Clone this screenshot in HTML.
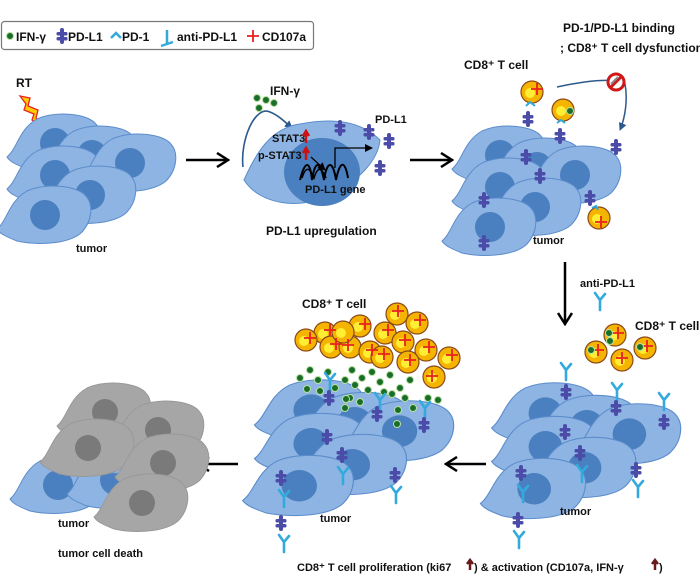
<!DOCTYPE html>
<html><head><meta charset="utf-8"><style>
body{margin:0;background:#fff}
svg{display:block}
text{font-family:"Liberation Sans",sans-serif;font-weight:bold;fill:#111}
</style></head><body>
<svg width="700" height="582" viewBox="0 0 700 582" xmlns="http://www.w3.org/2000/svg">
<defs>
<g id="cell">
<path d="M-48,14 C-38,6 -36,-14 -18,-24 C0,-32 30,-30 40,-20 C50,-10 46,8 36,18 C22,30 -10,30 -28,26 C-38,22 -45,19 -48,14Z" fill="#8eb4e3" stroke="#5b8ccc" stroke-width="1"/>
<circle cx="0" cy="0" r="15" fill="#4a7fc0"/>
</g>
<g id="gcell">
<path d="M-48,14 C-38,6 -36,-14 -18,-24 C0,-32 30,-30 40,-20 C50,-10 46,8 36,18 C22,30 -10,30 -28,26 C-38,22 -45,19 -48,14Z" fill="#a6a6a6" stroke="#999" stroke-width="1"/>
<circle cx="0" cy="0" r="13" fill="#7a7a7a"/>
</g>
<g id="clu">
<use href="#cell" x="45" y="43"/>
<use href="#cell" x="82" y="55"/>
<use href="#cell" x="45" y="75"/>
<use href="#cell" x="120" y="63"/>
<use href="#cell" x="80" y="95"/>
<use href="#cell" x="35" y="115"/>
</g>
<g id="pdl1">
<rect x="-2" y="-8" width="4" height="16" rx="2" fill="#4b4ba8"/>
<rect x="-5.5" y="-4" width="11" height="3.5" rx="1.5" fill="#4b4ba8"/>
<rect x="-5.5" y="1" width="11" height="3.5" rx="1.5" fill="#4b4ba8"/>
</g>
<g id="ab">
<path d="M0,10 L0,0 M0,0 L-5,-7 M0,0 L5,-6" stroke="#33aadd" stroke-width="2.6" fill="none" stroke-linecap="round"/>
</g>
<g id="tc">
<circle r="11" fill="#f4b400" stroke="#8a4a1a" stroke-width="1.2"/>
<circle cx="-2" cy="1" r="5" fill="#ffee33"/>
</g>
<g id="cd"><path d="M0,-6 L0,6 M-6,0 L6,0" stroke="#e82020" stroke-width="1.8"/></g>
<g id="ifn"><circle r="3.5" fill="#1b6e2a" stroke="#b8e0a0" stroke-width="1"/></g>
<marker id="ah" markerUnits="userSpaceOnUse" markerWidth="14" markerHeight="16" refX="12" refY="8" orient="auto"><path d="M1,1 L12,8 L1,15" fill="none" stroke="#000" stroke-width="2.5"/></marker>
<marker id="ahs" markerUnits="userSpaceOnUse" markerWidth="8" markerHeight="8" refX="7" refY="4" orient="auto"><path d="M0,0 L8,4 L0,8Z" fill="#000"/></marker>
<marker id="ahb" markerUnits="userSpaceOnUse" markerWidth="8" markerHeight="8" refX="7" refY="4" orient="auto"><path d="M0,0 L8,4 L0,8Z" fill="#2c5a8c"/></marker>
</defs>

<!-- legend -->
<rect x="1.5" y="21.5" width="312" height="28" rx="3" fill="#fff" stroke="#777" stroke-width="1.2"/>
<use href="#ifn" x="10" y="36"/>
<text x="16" y="41" font-size="12">IFN-γ</text>
<use href="#pdl1" x="62" y="36"/>
<text x="68" y="41" font-size="12">PD-L1</text>
<path d="M111,38 L116,33 L121,38" stroke="#33aadd" stroke-width="2.5" fill="none"/>
<text x="122" y="41" font-size="12">PD-1</text>
<path d="M167,44 L167,30 M167,44 L161,46 M167,44 L173,42" stroke="#33aadd" stroke-width="2.5" fill="none"/>
<text x="177" y="41" font-size="12">anti-PD-L1</text>
<use href="#cd" x="253" y="36"/>
<text x="262" y="41" font-size="12">CD107a</text>

<!-- panel 1 -->
<text x="16" y="87" font-size="12">RT</text>
<path d="M20,96 L30,98 L28,106 L38,110 L36,118 L48,132 L32,120 L34,114 L24,110 L26,104Z" fill="#ffcc00" stroke="#e82020" stroke-width="1.3"/>
<use href="#clu" x="10" y="100"/>
<text x="76" y="252" font-size="11">tumor</text>
<path d="M186,160 L228,160" stroke="#000" stroke-width="2.5" marker-end="url(#ah)"/>

<!-- panel 2 -->
<text x="270" y="95" font-size="12">IFN-γ</text>
<use href="#ifn" x="257" y="98"/><use href="#ifn" x="266" y="100"/><use href="#ifn" x="274" y="103"/><use href="#ifn" x="259" y="108"/>
<path d="M243,167 C240,140 255,105 270,112 C278,115 285,122 292,128" stroke="#2c5a8c" stroke-width="1.6" fill="none" marker-end="url(#ahb)"/>
<path d="M244,180 C255,155 270,128 300,124 C330,118 360,120 380,140 C378,160 360,180 330,195 C300,210 260,205 244,180Z" fill="#8eb4e3" stroke="#5b8ccc"/>
<ellipse cx="322" cy="172" rx="38" ry="34" fill="#4a7fc0"/>
<text x="272" y="142" font-size="11">STAT3</text>
<text x="258" y="159" font-size="11">p-STAT3</text>
<path d="M306,133 L306,143 M303,136 L306,131 L309,136" stroke="#cc1111" stroke-width="2.5" fill="none"/>
<path d="M306,150 L306,160 M303,153 L306,148 L309,153" stroke="#cc1111" stroke-width="2.5" fill="none"/>
<path d="M311,157 L325,170" stroke="#000" stroke-width="1.2" marker-end="url(#ahs)"/>
<path d="M300,180 C305,160 310,160 312,180 C315,160 320,160 324,180 C327,160 333,160 336,180 C340,160 345,160 348,178" stroke="#000" stroke-width="2" fill="none"/>
<path d="M302,178 C306,165 310,168 314,178 C318,165 322,168 326,178" stroke="#000" stroke-width="1.5" fill="none"/>
<text x="305" y="193" font-size="11">PD-L1 gene</text>
<path d="M335,168 L335,148 L372,148" stroke="#000" stroke-width="1.3" fill="none" marker-end="url(#ahs)"/>
<text x="375" y="123" font-size="11">PD-L1</text>
<use href="#pdl1" x="340" y="128"/><use href="#pdl1" x="369" y="132"/><use href="#pdl1" x="389" y="141"/><use href="#pdl1" x="380" y="168"/>
<text x="266" y="235" font-size="12">PD-L1 upregulation</text>
<path d="M410,160 L452,160" stroke="#000" stroke-width="2.5" marker-end="url(#ah)"/>

<!-- panel 3 -->
<text x="563" y="32" font-size="12">PD-1/PD-L1 binding</text>
<text x="560" y="52" font-size="12">; CD8⁺ T cell dysfunction</text>
<text x="464" y="69" font-size="12">CD8⁺ T cell</text>
<use href="#clu" x="455" y="112"/>
<use href="#tc" x="532" y="92"/><use href="#cd" x="537" y="89"/>
<use href="#tc" x="563" y="110"/><use href="#ifn" x="570" y="111"/>
<use href="#tc" x="599" y="218"/><use href="#cd" x="601" y="222"/>
<path d="M526,106 L530,102 L535,106" stroke="#33aadd" stroke-width="2" fill="none"/>
<path d="M557,123 L561,120 L565,123" stroke="#33aadd" stroke-width="2" fill="none"/>
<path d="M592,208 L596,206 L598,210" stroke="#33aadd" stroke-width="2" fill="none"/>
<use href="#pdl1" x="528" y="119"/><use href="#pdl1" x="560" y="136"/><use href="#pdl1" x="526" y="157"/><use href="#pdl1" x="540" y="176"/><use href="#pdl1" x="616" y="147"/><use href="#pdl1" x="484" y="200"/><use href="#pdl1" x="590" y="198"/><use href="#pdl1" x="484" y="243"/>
<path d="M557,87 C590,80 615,78 625,84 C628,100 625,118 620,130" stroke="#2c5a8c" stroke-width="1.5" fill="none" marker-end="url(#ahb)"/>
<circle cx="616" cy="82" r="8" fill="#fff" stroke="#d01818" stroke-width="3"/>
<path d="M611,87 L621,77" stroke="#d01818" stroke-width="3"/>
<path d="M611,84 L618,77" stroke="#888" stroke-width="2"/>
<text x="533" y="244" font-size="11">tumor</text>

<path d="M565,262 L565,324" stroke="#000" stroke-width="2.5" marker-end="url(#ah)"/>
<text x="580" y="287" font-size="11">anti-PD-L1</text>
<use href="#ab" x="600" y="300"/>

<!-- panel 4 bottom right -->
<text x="635" y="330" font-size="12">CD8⁺ T cell</text>
<use href="#clu" transform="translate(495,368) scale(1.12,1.05)"/>
<use href="#tc" x="615" y="335"/><use href="#cd" x="618" y="333"/><use href="#ifn" x="609" y="333"/><use href="#ifn" x="610" y="341"/>
<use href="#tc" x="596" y="352"/><use href="#cd" x="598" y="350"/><use href="#ifn" x="591" y="350"/>
<use href="#tc" x="622" y="360"/><use href="#cd" x="622" y="358"/>
<use href="#tc" x="645" y="348"/><use href="#cd" x="647" y="346"/><use href="#ifn" x="640" y="347"/>
<use href="#ab" x="566" y="370"/><use href="#pdl1" x="566" y="392"/>
<use href="#ab" x="617" y="390"/><use href="#pdl1" x="616" y="408"/>
<use href="#ab" x="664" y="400"/><use href="#pdl1" x="664" y="422"/>
<use href="#pdl1" x="565" y="432"/><use href="#pdl1" x="580" y="453"/><use href="#ab" x="582" y="472"/>
<use href="#pdl1" x="521" y="473"/><use href="#ab" x="523" y="492"/>
<use href="#pdl1" x="636" y="470"/><use href="#ab" x="638" y="487"/>
<use href="#pdl1" x="518" y="520"/><use href="#ab" x="519" y="538"/>
<text x="560" y="515" font-size="11">tumor</text>
<path d="M486,464 L446,464" stroke="#000" stroke-width="2.5" marker-end="url(#ah)"/>

<!-- panel 5 bottom middle -->
<text x="302" y="308" font-size="12">CD8⁺ T cell</text>
<use href="#clu" transform="translate(258,365) scale(1.18,1.05)"/>
<g>
<use href="#ifn" x="300" y="378"/><use href="#ifn" x="310" y="370"/><use href="#ifn" x="318" y="380"/><use href="#ifn" x="328" y="372"/><use href="#ifn" x="307" y="389"/><use href="#ifn" x="320" y="391"/><use href="#ifn" x="335" y="388"/>
<use href="#ifn" x="352" y="370"/><use href="#ifn" x="362" y="378"/><use href="#ifn" x="372" y="372"/><use href="#ifn" x="355" y="385"/><use href="#ifn" x="368" y="390"/><use href="#ifn" x="380" y="382"/><use href="#ifn" x="390" y="375"/><use href="#ifn" x="350" y="398"/><use href="#ifn" x="360" y="402"/><use href="#ifn" x="345" y="408"/><use href="#ifn" x="346" y="399"/>
<use href="#ifn" x="400" y="388"/><use href="#ifn" x="410" y="380"/><use href="#ifn" x="405" y="398"/><use href="#ifn" x="413" y="408"/><use href="#ifn" x="398" y="410"/><use href="#ifn" x="392" y="394"/><use href="#ifn" x="428" y="398"/><use href="#ifn" x="438" y="400"/><use href="#ifn" x="397" y="424"/><use href="#ifn" x="345" y="380"/><use href="#ifn" x="384" y="392"/>
</g>
<use href="#tc" x="325" y="333"/><use href="#tc" x="360" y="326"/><use href="#tc" x="385" y="333"/><use href="#tc" x="397" y="314"/><use href="#tc" x="417" y="323"/>
<use href="#tc" x="306" y="340"/><use href="#tc" x="331" y="347"/><use href="#tc" x="350" y="347"/><use href="#tc" x="370" y="352"/><use href="#tc" x="382" y="357"/><use href="#tc" x="403" y="342"/><use href="#tc" x="426" y="350"/><use href="#tc" x="449" y="358"/><use href="#tc" x="408" y="362"/><use href="#tc" x="434" y="377"/><use href="#tc" x="343" y="332"/>
<g>
<use href="#cd" x="310" y="338"/><use href="#cd" x="330" y="330"/><use href="#cd" x="336" y="344"/><use href="#cd" x="348" y="345"/><use href="#cd" x="365" y="324"/><use href="#cd" x="372" y="350"/><use href="#cd" x="388" y="330"/><use href="#cd" x="384" y="354"/><use href="#cd" x="398" y="311"/><use href="#cd" x="420" y="320"/><use href="#cd" x="405" y="340"/><use href="#cd" x="429" y="347"/><use href="#cd" x="410" y="360"/><use href="#cd" x="432" y="376"/><use href="#cd" x="452" y="355"/>
</g>
<use href="#ab" x="330" y="380"/><use href="#pdl1" x="329" y="398"/>
<use href="#ab" x="380" y="400"/><use href="#pdl1" x="377" y="414"/>
<use href="#ab" x="425" y="408"/><use href="#pdl1" x="424" y="425"/>
<use href="#pdl1" x="327" y="437"/><use href="#pdl1" x="342" y="455"/><use href="#ab" x="343" y="474"/>
<use href="#pdl1" x="281" y="478"/><use href="#ab" x="284" y="497"/>
<use href="#pdl1" x="395" y="475"/><use href="#ab" x="396" y="493"/>
<use href="#pdl1" x="281" y="523"/><use href="#ab" x="284" y="542"/>
<text x="320" y="522" font-size="11">tumor</text>
<path d="M238,464 L198,464" stroke="#000" stroke-width="2.5" marker-end="url(#ah)"/>

<!-- panel 6 gray -->
<use href="#cell" x="58" y="485"/>
<use href="#cell" x="115" y="480"/>
<use href="#cell" x="125" y="445"/>
<use href="#gcell" x="105" y="412"/>
<use href="#gcell" x="158" y="430"/>
<use href="#gcell" x="88" y="448"/>
<use href="#gcell" x="163" y="463"/>
<use href="#gcell" x="142" y="503"/>
<text x="58" y="527" font-size="11">tumor</text>
<text x="58" y="557" font-size="11">tumor cell death</text>

<text x="297" y="571" font-size="11">CD8⁺ T cell proliferation (ki67</text>
<path d="M470,570 L470,562 M467,564 L470,560 L473,564" stroke="#6a1a1a" stroke-width="2.5" fill="none"/>
<text x="474" y="571" font-size="11">)  &amp; activation (CD107a, IFN-γ</text>
<path d="M655,570 L655,562 M652,564 L655,560 L658,564" stroke="#6a1a1a" stroke-width="2.5" fill="none"/>
<text x="659" y="571" font-size="11">)</text>
</svg>
</body></html>
